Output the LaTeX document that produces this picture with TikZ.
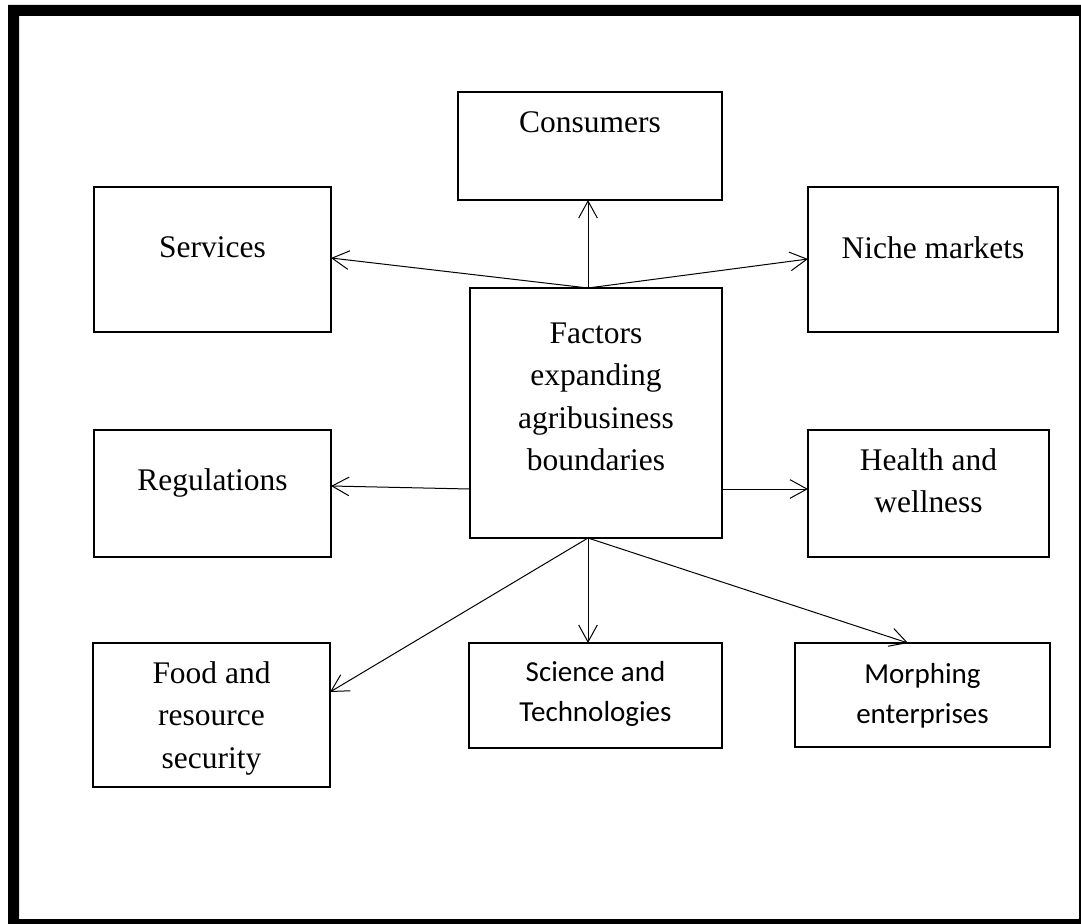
\documentclass[tikz,border=0pt]{standalone}
\usepackage{fontspec}
\setmainfont{Liberation Serif}
\newfontfamily\calibrifont{Carlito}
\usetikzlibrary{arrows.meta,calc}

\begin{document}
\begin{tikzpicture}[
    x=0.75pt, y=-0.75pt,
    box/.style 2 args={draw, line width=1.5pt, inner sep=0pt, outer sep=0pt,
      minimum width=#1*0.75pt, minimum height=#2*0.75pt},
    serif/.style={anchor=north, align=center, inner sep=0pt,
      font=\fontsize{23.6pt}{31.9pt}\selectfont},
    sans/.style={anchor=north, align=center, inner sep=0pt,
      font=\calibrifont\fontsize{21.75pt}{30pt}\selectfont},
    link/.style={line width=0.75pt,
      -{Straight Barb[length=12.75pt, width=14pt, line width=0.75pt]}}
  ]
  % page area and outer frame
  \useasboundingbox (0,0) rectangle (1081,924);
  \clip (0,0) rectangle (1081,924);
  \fill[white] (0,0) rectangle (1081,924);
  \fill[black, even odd rule] (8,5) rectangle (1100,940) (19,16) rectangle (1079,919);

  % boxes
  \node[box={264}{108}] (cons)   at (590,146)     {};
  \node[box={237}{145}] (serv)   at (212.5,259.5) {};
  \node[box={250}{145}] (niche)  at (933,259.5)   {};
  \node[box={252}{250}] (fact)   at (596,413)     {};
  \node[box={237}{127}] (reg)    at (212.5,493.5) {};
  \node[box={241}{127}] (health) at (928.5,493.5) {};
  \node[box={237}{144}] (food)   at (211.5,715)   {};
  \node[box={253}{105}] (sci)    at (595.5,695.5) {};
  \node[box={255}{104}] (morph)  at (922.5,695)   {};

  % labels (north = first baseline - 0.7 baselineskip)
  \node[serif] (tcons)   at (590,102.2)   {\strut Consumers};
  \node[serif] (tserv)   at (212.5,227.2) {\strut Services};
  \node[serif] (tniche)  at (933,228.2)   {\strut Niche markets};
  \node[serif] (tfact)   at (596,313.2)   {\strut Factors\\expanding\\agribusiness\\boundaries};
  \node[serif] (treg)    at (212.5,460.2) {\strut Regulations};
  \node[serif] (thealth) at (928.5,440.2) {\strut Health and\\wellness};
  \node[serif] (tfood)   at (211.5,653.2) {\strut Food and\\resource\\security};
  \node[sans]  (tsci)    at (595.5,653)   {\strut Science and\\Technologies};
  \node[sans]  (tmorph)  at (922.5,655)   {\strut Morphing\\enterprises};

  % connector origins on the central box
  \coordinate (hubT) at ($(fact.north)+(-8,0)$);
  \coordinate (hubB) at ($(fact.south)+(-8,0)$);
  \coordinate (hubL) at ($(fact.west)+(0,76)$);
  \coordinate (hubR) at ($(fact.east)+(0,76)$);

  % connectors
  \draw[link] (hubT) -- ($(cons.south)+(-2,0)$);
  \draw[link] (hubT) -- ($(serv.east)+(0,-1.5)$);
  \draw[link] (hubT) -- ($(niche.west)+(0,-0.5)$);
  \draw[link] (hubL) -- ($(reg.east)+(0,-7.5)$);
  \draw[link] (hubR) -- ($(health.west)+(0,-4.5)$);
  \draw[link] (hubB) -- ($(food.east)+(0,-23)$);
  \draw[link] (hubB) -- ($(sci.north)+(-7.5,0)$);
  \draw[link] (hubB) -- ($(morph.north)+(-14.5,0)$);
\end{tikzpicture}
\end{document}
